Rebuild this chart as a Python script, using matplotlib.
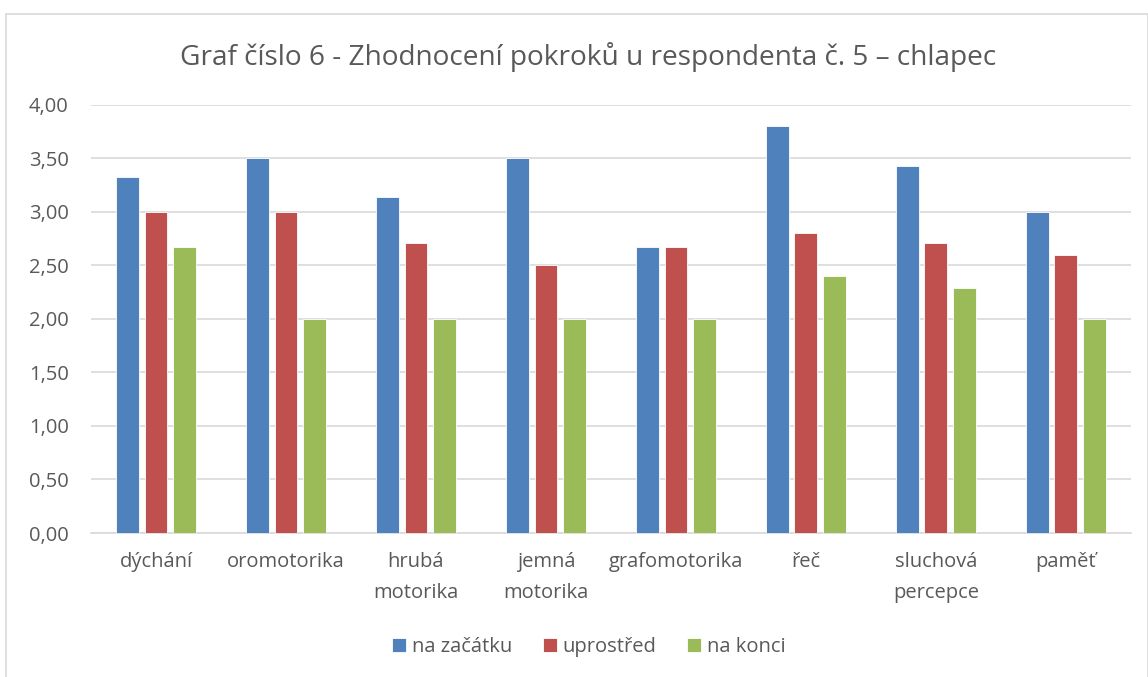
import matplotlib.pyplot as plt
import numpy as np
from matplotlib.patches import Rectangle

plt.rcParams['font.family'] = ['Open Sans', 'DejaVu Sans']

categories = ['dýchání', 'oromotorika', 'hrubá\nmotorika', 'jemná\nmotorika',
              'grafomotorika', 'řeč', 'sluchová\npercepce', 'paměť']
series_names = ['na začátku', 'uprostřed', 'na konci']
na_zacatku = [3.33, 3.50, 3.14, 3.50, 2.67, 3.80, 3.43, 3.00]
uprostred = [3.00, 3.00, 2.71, 2.50, 2.67, 2.80, 2.71, 2.60]
na_konci = [2.67, 2.00, 2.00, 2.00, 2.00, 2.40, 2.29, 2.00]
yticks = [0, 0.5, 1.0, 1.5, 2.0, 2.5, 3.0, 3.5, 4.0]

colors = ['#4f81bd', '#c0504d', '#9bbb59']
text_col = '#595959'

fig = plt.figure(figsize=(11.48, 6.77), dpi=100)
ax = fig.add_axes([0.0793, 0.2127, 0.9057, 0.6323])

# outer chart border
fig.patches.append(Rectangle((0.005, -0.01), 0.995, 0.99, transform=fig.transFigure,
                             fill=False, edgecolor='#d9d9d9', lw=1.2))

x = np.arange(len(categories))
w = 0.175
pitch = 0.22
for i, (vals, c) in enumerate(zip([na_zacatku, uprostred, na_konci], colors)):
    ax.bar(x + (i - 1) * pitch, vals, w, color=c, label=series_names[i],
           edgecolor='white', linewidth=0.6, zorder=3)

ax.set_xlim(-0.5, len(categories) - 0.5)
ax.set_ylim(0, 4.0)
ax.set_yticks(yticks)
ax.set_yticklabels([f'{v:.2f}'.replace('.', ',') for v in yticks])
ax.set_xticks(x)
ax.set_xticklabels(categories, linespacing=1.7)
ax.tick_params(axis='both', length=0, labelsize=14.5, colors=text_col)
ax.tick_params(axis='x', pad=14)
ax.tick_params(axis='y', pad=16)
ax.grid(axis='y', color='#d9d9d9', lw=1.2, zorder=0)
for s in ['top', 'right', 'left']:
    ax.spines[s].set_visible(False)
ax.spines['bottom'].set_color('#d9d9d9')
ax.spines['bottom'].set_linewidth(1.2)

fig.text(0.512, 0.916, 'Graf číslo 6 - Zhodnocení pokroků u respondenta č. 5 – chlapec',
         ha='center', va='center', fontsize=20.2, color=text_col)

fig.legend(loc='center', bbox_to_anchor=(0.513, 0.044), ncol=3, frameon=False,
           fontsize=14.5, labelcolor=text_col, handlelength=0.7, handleheight=0.7,
           handletextpad=0.3, columnspacing=1.5)

fig.savefig('out.png', dpi=100, facecolor='white')
